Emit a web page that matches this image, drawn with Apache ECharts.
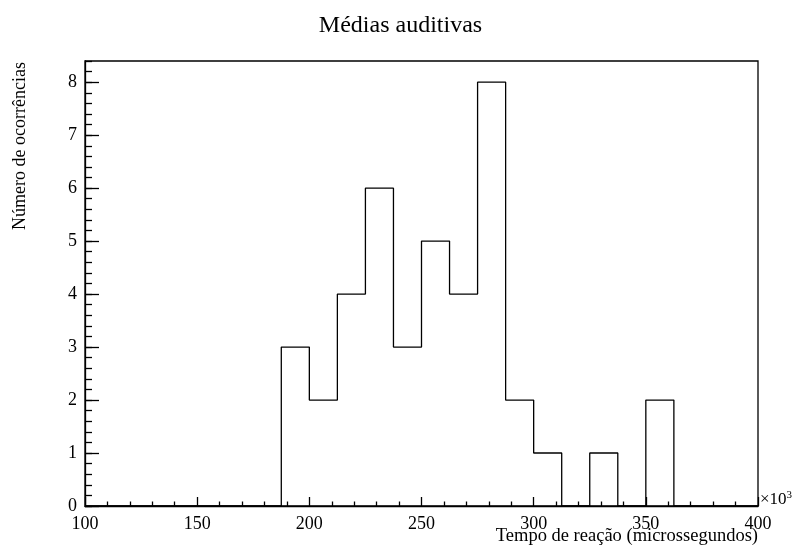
<!DOCTYPE html>
<html>
<head>
<meta charset="utf-8">
<script src="https://cdn.jsdelivr.net/npm/echarts@6/dist/echarts.min.js"></script>
<style>
  html, body { margin: 0; padding: 0; background: #fff; }
  #chart { width: 801px; height: 548px; }
</style>
</head>
<body>
<div id="chart"></div>
<script>
// histogram bins (x in units of 10^3 microseconds), left edges + counts
const binEdges = [100, 112.5, 125, 137.5, 150, 162.5, 175, 187.5, 200, 212.5, 225, 237.5,
                  250, 262.5, 275, 287.5, 300, 312.5, 325, 337.5, 350, 362.5, 375, 387.5, 400]
const counts = [0, 0, 0, 0, 0, 0, 0, 3, 2, 4, 6, 3, 5, 4, 8, 2, 1, 0, 1, 0, 2, 0, 0, 0]
const xTickLabels = ['100', '150', '200', '250', '300', '350', '400']
const yTickLabels = ['0', '1', '2', '3', '4', '5', '6', '7', '8']

const serif = '"Liberation Serif", "DejaVu Serif", serif'

// step line: each bin drawn from its left edge, closed at 400 with 0
const stepData = binEdges.map((x, i) => [x, i < counts.length ? counts[i] : 0])

const chart = echarts.init(document.getElementById('chart'), null, { renderer: 'canvas' })

chart.setOption({
    animation: false,
    backgroundColor: '#fff',
    title: {
        text: 'Médias auditivas',
        left: 'center',
        top: 9,
        textStyle: { fontFamily: serif, fontSize: 24, fontWeight: 'normal', color: '#000' }
    },
    grid: {
        left: 85, right: 43, top: 61, bottom: 42,
        show: true, borderColor: '#000', borderWidth: 1.3, backgroundColor: 'transparent'
    },
    xAxis: {
        type: 'value',
        min: 100, max: 400, interval: 50,
        axisLine: { show: true, lineStyle: { color: '#000', width: 1.3 } },
        axisTick: { inside: true, length: 9, lineStyle: { color: '#000', width: 1.3 } },
        minorTick: { show: true, splitNumber: 5, length: 4.5, lineStyle: { color: '#000', width: 1.3 } },
        splitLine: { show: false },
        axisLabel: {
            margin: 9,
            fontFamily: serif, fontSize: 18, color: '#000',
            formatter: v => xTickLabels.includes(String(v)) ? String(v) : ''
        }
    },
    yAxis: [
        {
            type: 'value',
            min: 0, max: 8.4, interval: 1,
            axisLine: { show: true, lineStyle: { color: '#000', width: 1.3 } },
            axisTick: { inside: true, length: 14, lineStyle: { color: '#000', width: 1.3 } },
            splitLine: { show: false },
            axisLabel: {
                margin: 8, showMaxLabel: false,
                fontFamily: serif, fontSize: 18, color: '#000',
                formatter: v => yTickLabels.includes(String(v)) ? String(v) : ''
            }
        },
        {
            // minor ticks (0.2 steps)
            type: 'value',
            position: 'left',
            min: 0, max: 8.4, interval: 0.2,
            axisLine: { show: false },
            axisTick: { inside: true, length: 7, lineStyle: { color: '#000', width: 1.3 } },
            splitLine: { show: false },
            axisLabel: { show: false }
        }
    ],
    graphic: [
        {
            type: 'text', x: 20, y: 62, rotation: Math.PI / 2,
            style: {
                text: 'Número de ocorrências', fill: '#000',
                font: '18px ' + serif, textAlign: 'right', textVerticalAlign: 'middle'
            }
        },
        {
            type: 'text', x: 758, y: 536,
            style: {
                text: 'Tempo de reação (microssegundos)', fill: '#000',
                font: '18.5px ' + serif, textAlign: 'right', textVerticalAlign: 'middle'
            }
        },
        {
            type: 'text', x: 760, y: 500,
            style: {
                text: '×10{s|3}', fill: '#000',
                font: '17px ' + serif, textAlign: 'left', textVerticalAlign: 'middle',
                rich: { s: { fontFamily: serif, fontSize: 11, verticalAlign: 'top', padding: [0, 0, 10, 0] } }
            }
        }
    ],
    series: [
        {
            type: 'line',
            step: 'end',
            data: stepData,
            symbol: 'none',
            lineStyle: { color: '#000', width: 1.3 },
            silent: true
        }
    ]
})
</script>
</body>
</html>
